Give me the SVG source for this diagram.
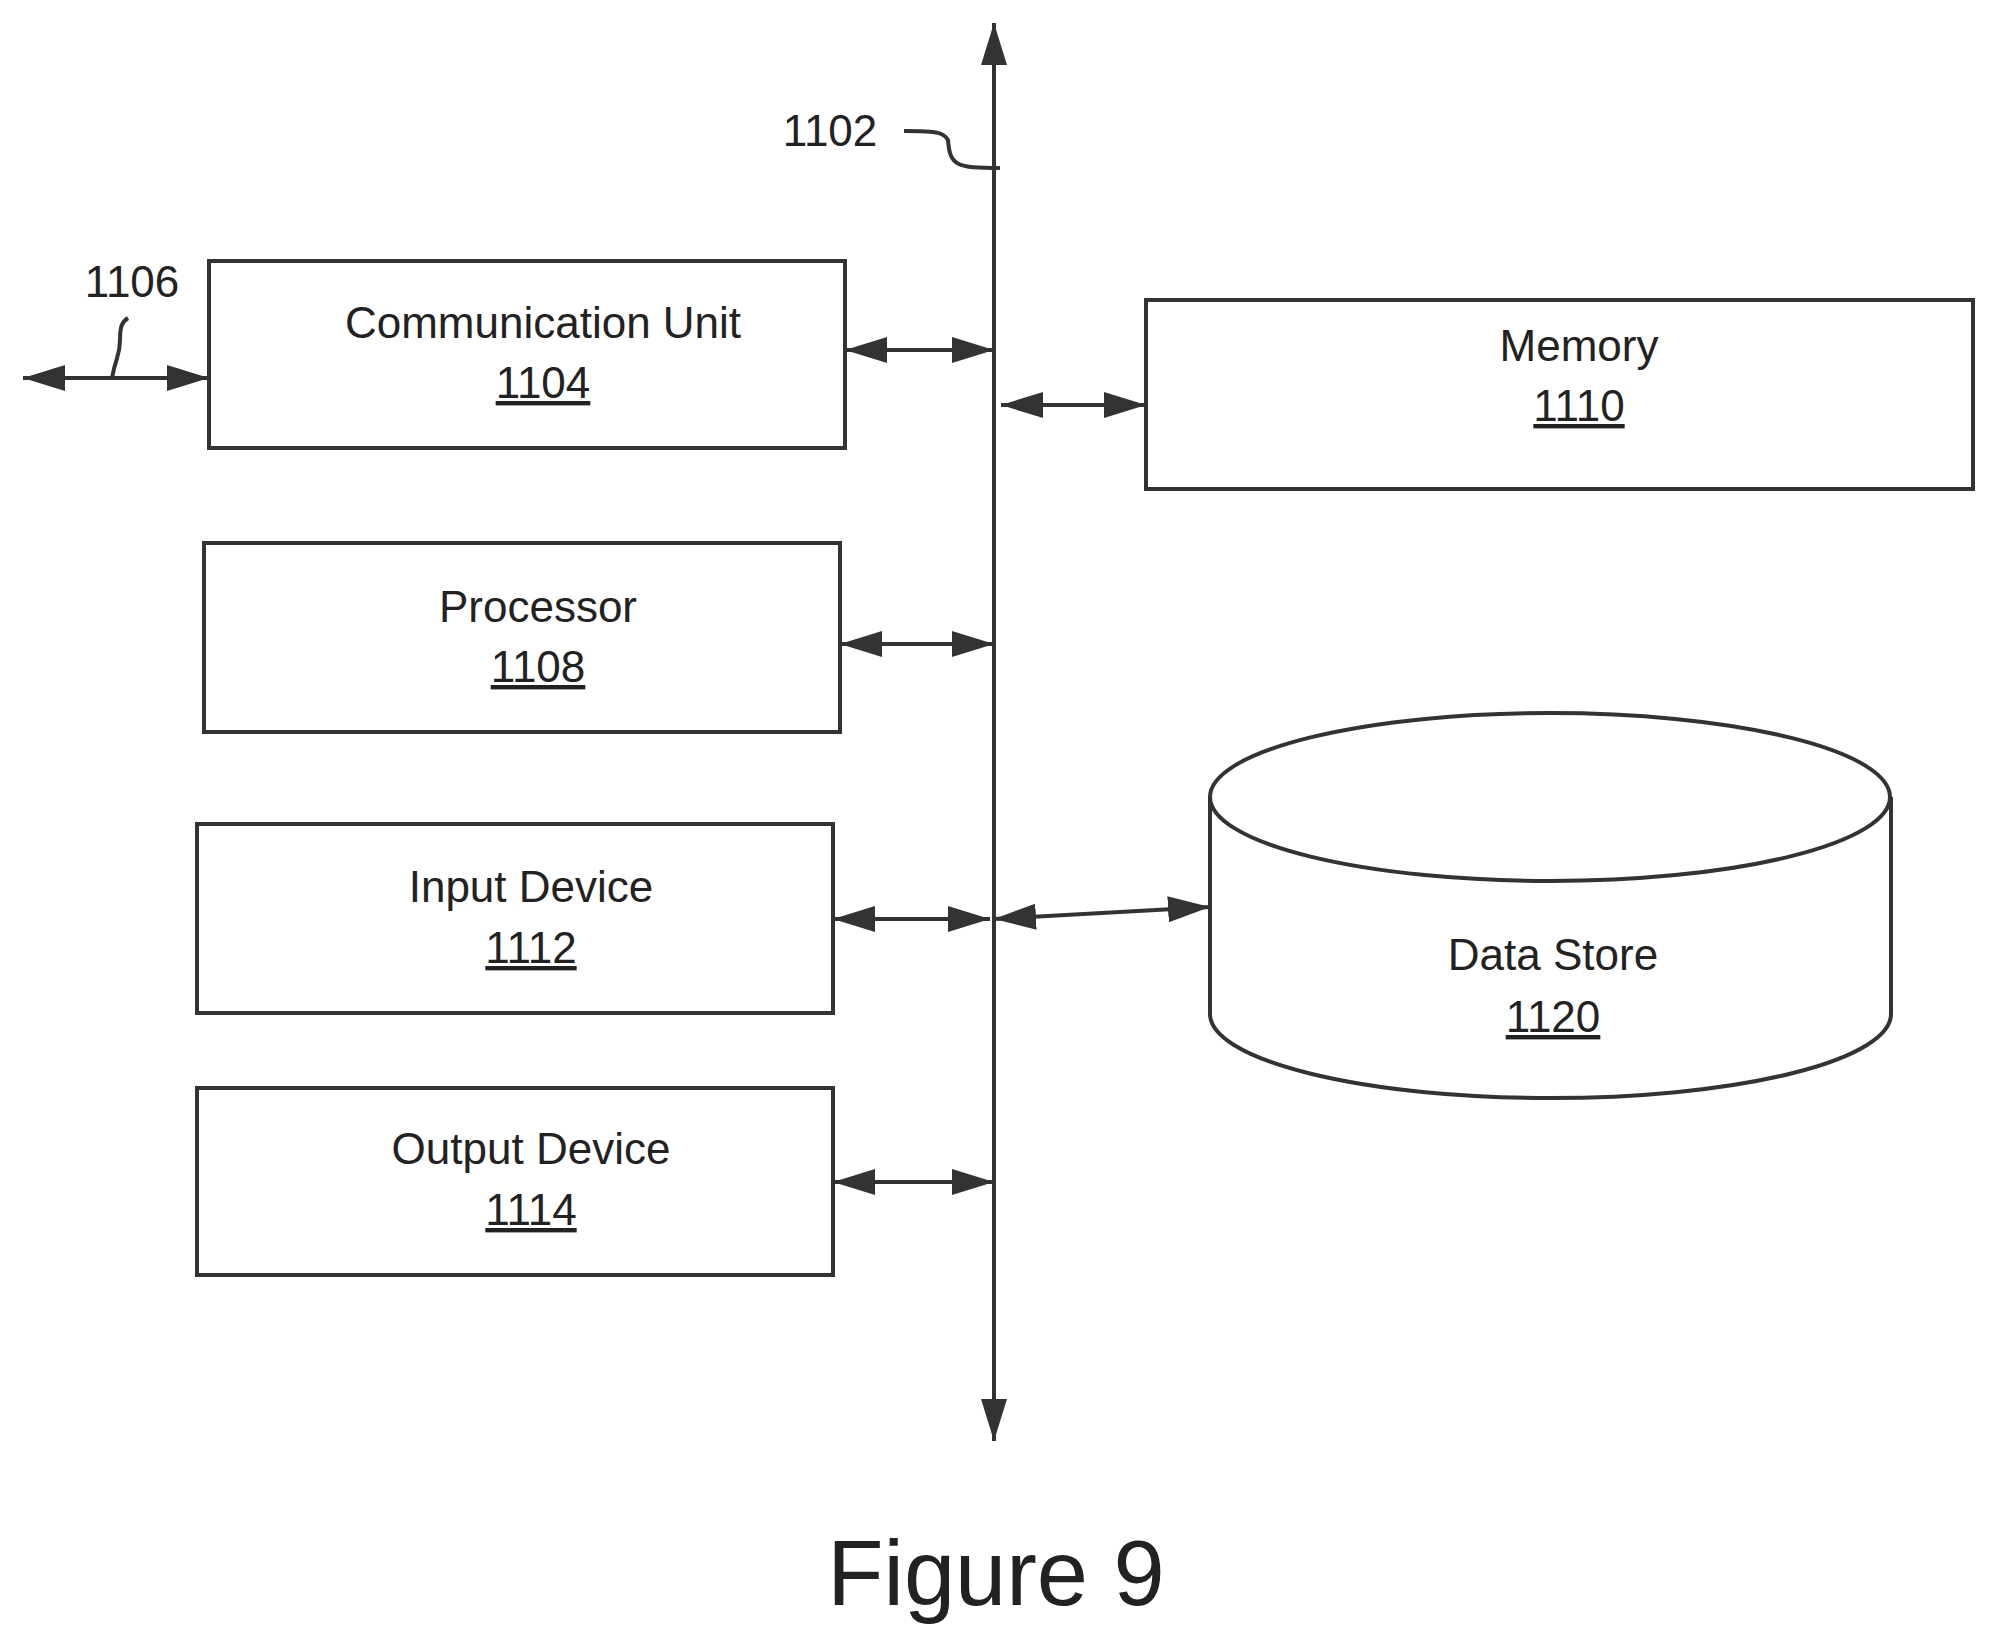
<svg xmlns="http://www.w3.org/2000/svg" width="1995" height="1648" viewBox="0 0 1995 1648">
<style>
.b{fill:#fff;stroke:#333;stroke-width:4}
.t{font-family:"Liberation Sans",Arial,sans-serif;font-size:44px;fill:#222;text-anchor:middle}
.u{text-decoration:underline}
.c{stroke:#333;stroke-width:4;fill:none}
</style>
<defs>
<marker id="a" viewBox="0 0 10 10" refX="10" refY="5" markerWidth="11" markerHeight="7" markerUnits="userSpaceOnUse" orient="auto-start-reverse" style="overflow:visible">
<path d="M0,0 L10,5 L0,10 Z" fill="#333" transform="scale(4.2,2.6)"/>
</marker>
<marker id="h" viewBox="0 0 42 26" refX="42" refY="13" markerWidth="42" markerHeight="26" markerUnits="userSpaceOnUse" orient="auto-start-reverse">
<path d="M0,0 L42,13 L0,26 Z" fill="#333"/>
</marker>
</defs>
<g id="connectors">
<line class="c" x1="994" y1="1441" x2="994" y2="23" marker-start="url(#h)" marker-end="url(#h)"/>
<line class="c" x1="845" y1="350" x2="994" y2="350" marker-start="url(#h)" marker-end="url(#h)"/>
<line class="c" x1="1001" y1="405" x2="1146" y2="405" marker-start="url(#h)" marker-end="url(#h)"/>
<line class="c" x1="840" y1="644" x2="994" y2="644" marker-start="url(#h)" marker-end="url(#h)"/>
<line class="c" x1="833" y1="919" x2="990" y2="919" marker-start="url(#h)" marker-end="url(#h)"/>
<line class="c" x1="994" y1="919" x2="1210" y2="907" marker-start="url(#h)" marker-end="url(#h)"/>
<line class="c" x1="833" y1="1182" x2="994" y2="1182" marker-start="url(#h)" marker-end="url(#h)"/>
<line class="c" x1="23" y1="378" x2="209" y2="378" marker-start="url(#h)" marker-end="url(#h)"/>
<path class="c" stroke-width="3" d="M904,131 C940,131 944,133 948,140 C950,166 956,168 1000,168"/>
<path class="c" stroke-width="3" d="M128,318 C122,322 120,326 120,340 C120,356 116,356 112,378"/>
</g>
<text class="t" x="830" y="146">1102</text>
<text class="t" x="132" y="297">1106</text>
<g id="comm"><rect class="b" x="209" y="261" width="636" height="187"/><text class="t" x="543" y="338">Communication Unit</text><text class="t u" x="543" y="398">1104</text></g>
<g id="memory"><rect class="b" x="1146" y="300" width="827" height="189"/><text class="t" x="1579" y="361">Memory</text><text class="t u" x="1579" y="421">1110</text></g>
<g id="processor"><rect class="b" x="204" y="543" width="636" height="189"/><text class="t" x="538" y="622">Processor</text><text class="t u" x="538" y="682">1108</text></g>
<g id="input"><rect class="b" x="197" y="824" width="636" height="189"/><text class="t" x="531" y="902">Input Device</text><text class="t u" x="531" y="963">1112</text></g>
<g id="output"><rect class="b" x="197" y="1088" width="636" height="187"/><text class="t" x="531" y="1164">Output Device</text><text class="t u" x="531" y="1225">1114</text></g>
<g id="datastore">
<path class="b" d="M1210,797 L1210,1014 A340,84 0 0 0 1891,1014 L1891,797"/>
<ellipse class="b" cx="1550" cy="797" rx="340" ry="84"/>
<text class="t" x="1553" y="970">Data Store</text><text class="t u" x="1553" y="1032">1120</text>
</g>
<text class="t" x="996" y="1605" style="font-size:92px">Figure 9</text>
</svg>
